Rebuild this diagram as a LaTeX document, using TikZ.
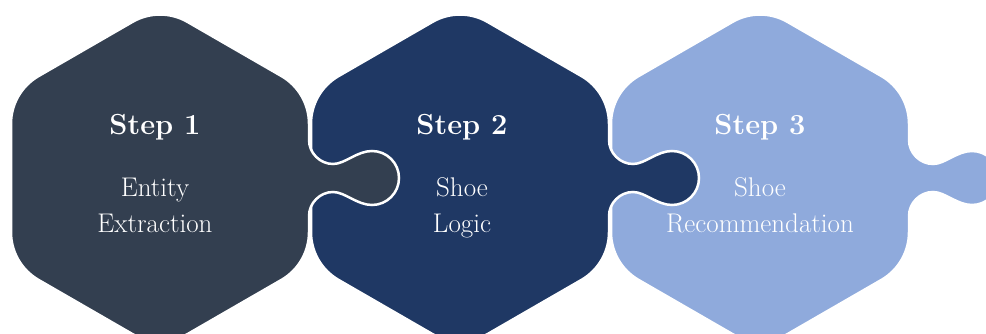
\documentclass[tikz,border=0pt]{standalone}
\usepackage{tikz}

\definecolor{piecedark}{HTML}{333F50}
\definecolor{piecenavy}{HTML}{1F3864}
\definecolor{piecelight}{HTML}{8FAADC}

% a puzzle piece: hexagon centred at x=#1 with corners of radius 55,
% and a tab on its right side
\newcommand{\puzzlepiece}[2]{%
  \fill[#2, draw=white, line width=2.5pt]
    (#1-149,156) -- (#1-149,210.25) arc[start angle=180, end angle=120, radius=55pt]
    -- (#1-27.5,312.1) arc[start angle=120, end angle=60, radius=55pt]
    -- (#1+121.5,257.9) arc[start angle=60, end angle=0, radius=55pt]
    -- (#1+149,194)
    .. controls (#1+149,181) and (#1+160,170) .. (#1+173,170)
    .. controls (#1+185,170) and (#1+197,183) .. (#1+212,183)
    arc[start angle=90, end angle=-90, radius=27pt]
    .. controls (#1+197,129) and (#1+185,142) .. (#1+173,142)
    .. controls (#1+160,142) and (#1+149,131) .. (#1+149,118)
    -- (#1+149,101.75) arc[start angle=0, end angle=-60, radius=55pt]
    -- (#1+27.5,-0.1) arc[start angle=-60, end angle=-120, radius=55pt]
    -- (#1-121.5,54.1) arc[start angle=-120, end angle=-180, radius=55pt]
    -- cycle;
}

\tikzset{
  steptitle/.style={text=white, anchor=base, font=\fontsize{29}{34}\selectfont\bfseries},
  stepdesc/.style={text=white, anchor=base, align=center, font=\fontsize{27}{36}\selectfont}
}

\begin{document}
\begin{tikzpicture}[x=1pt, y=1pt]
\useasboundingbox (0,0) rectangle (986,334);
\clip (0,0) rectangle (986,334);

% right to left, so every tab lies over the next piece
\puzzlepiece{760}{piecelight}
\puzzlepiece{460}{piecenavy}
\puzzlepiece{160}{piecedark}

\node [steptitle] (title1) at (155,199) {Step 1};
\node [steptitle] (title2) at (462,199) {Step 2};
\node [steptitle] (title3) at (760,199) {Step 3};

% base sits on the second line
\node [stepdesc] (desc1) at (155,101) {Entity\\Extraction};
\node [stepdesc] (desc2) at (462,101) {Shoe\\Logic};
\node [stepdesc] (desc3) at (760,101) {Shoe\\Recommendation};

\end{tikzpicture}
\end{document}
